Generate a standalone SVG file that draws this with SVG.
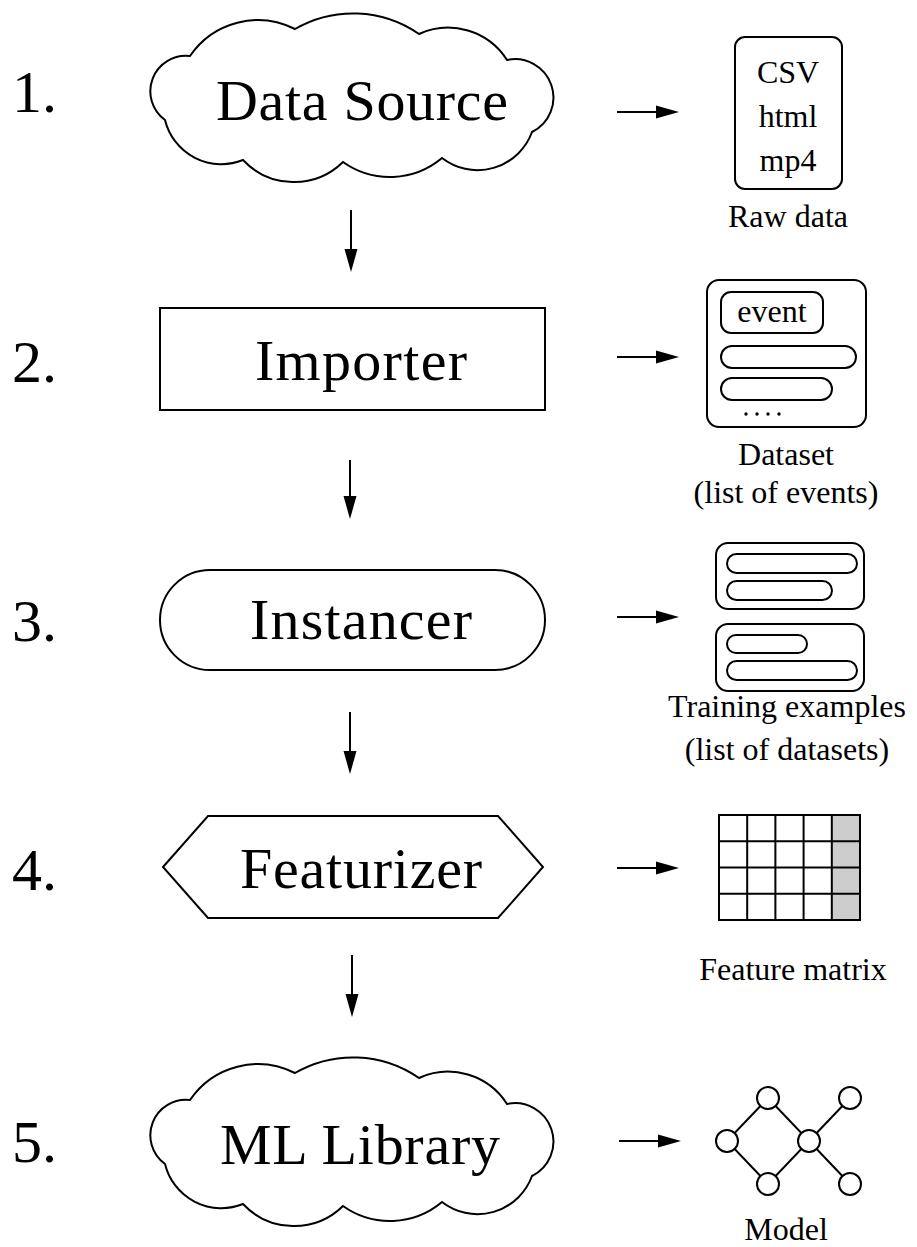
<svg xmlns="http://www.w3.org/2000/svg" width="917" height="1247" viewBox="0 0 917 1247">
<style>
.bg{fill:#ffffff}
.sh{fill:#ffffff;stroke:#000;stroke-width:2}
.ic{fill:none;stroke:#000;stroke-width:2}
.big{font-family:"Liberation Serif","Times New Roman",serif;font-size:58px;fill:#000}
.num{font-family:"Liberation Serif","Times New Roman",serif;font-size:60px;fill:#000}
.sm{font-family:"Liberation Serif","Times New Roman",serif;font-size:32px;fill:#000}
.ar{stroke:#000;stroke-width:2;fill:none}
</style>
<defs>
<marker id="ah" markerUnits="userSpaceOnUse" markerWidth="24" markerHeight="14" viewBox="0 -7 24 14" refX="1" refY="0" orient="auto">
<path d="M0,-6.5 L23,0 L0,6.5 Z" fill="#000"/>
</marker>
<path id="cloud" d="M190,56 A82,82 0 0 1 295,29 A116,116 0 0 1 419,34 A70,70 0 0 1 507,60 A38.4,38.4 0 0 1 532,132 A58,58 0 0 1 442,158 A81,81 0 0 1 343,162 A70,70 0 0 1 243,160 A58,58 0 0 1 165,120 A35.5,35.5 0 0 1 190,56 Z"/>
</defs>
<rect class="bg" x="0" y="0" width="917" height="1247"/>

<g id="step-numbers">
<text class="num" x="12" y="112">1.</text>
<text class="num" x="12" y="382">2.</text>
<text class="num" x="12" y="641">3.</text>
<text class="num" x="12" y="890">4.</text>
<text class="num" x="12" y="1162">5.</text>
</g>

<g id="data-source">
<use href="#cloud" class="sh"/>
<text class="big" x="362" y="120" text-anchor="middle" textLength="292">Data Source</text>
</g>

<g id="importer">
<rect class="sh" x="160" y="308" width="385" height="102"/>
<text class="big" x="361" y="380" text-anchor="middle" textLength="212">Importer</text>
</g>

<g id="instancer">
<rect class="sh" x="160" y="570" width="385" height="100" rx="50" ry="50"/>
<text class="big" x="361" y="639" text-anchor="middle" textLength="222">Instancer</text>
</g>

<g id="featurizer">
<polygon class="sh" points="163,867 208,816 498,816 543,867 498,918 208,918"/>
<text class="big" x="361" y="888" text-anchor="middle" textLength="242">Featurizer</text>
</g>

<g id="ml-library">
<use href="#cloud" class="sh" transform="translate(0,1044)"/>
<text class="big" x="360" y="1164" text-anchor="middle" textLength="280">ML Library</text>
</g>

<g id="connectors">
<line class="ar" x1="351" y1="210" x2="351" y2="250" marker-end="url(#ah)"/>
<line class="ar" x1="350" y1="460" x2="350" y2="497" marker-end="url(#ah)"/>
<line class="ar" x1="350" y1="712" x2="350" y2="752" marker-end="url(#ah)"/>
<line class="ar" x1="352" y1="955" x2="352" y2="995" marker-end="url(#ah)"/>
<line class="ar" x1="617" y1="112" x2="657" y2="112" marker-end="url(#ah)"/>
<line class="ar" x1="617" y1="357" x2="657" y2="357" marker-end="url(#ah)"/>
<line class="ar" x1="617" y1="617" x2="657" y2="617" marker-end="url(#ah)"/>
<line class="ar" x1="617" y1="868" x2="657" y2="868" marker-end="url(#ah)"/>
<line class="ar" x1="619" y1="1141" x2="659" y2="1141" marker-end="url(#ah)"/>
</g>

<g id="raw-data">
<rect class="ic" x="735" y="37" width="107" height="152" rx="10" ry="10"/>
<text class="sm" x="788" y="83" text-anchor="middle" font-size="34">CSV</text>
<text class="sm" x="788" y="127" text-anchor="middle" font-size="34">html</text>
<text class="sm" x="788" y="171" text-anchor="middle" font-size="34">mp4</text>
<text class="sm" x="788" y="227" text-anchor="middle">Raw data</text>
</g>

<g id="dataset">
<rect class="ic" x="707" y="280" width="159" height="147" rx="12" ry="12"/>
<rect class="ic" x="721" y="292" width="102" height="41" rx="10" ry="10"/>
<text class="sm" x="772" y="322" text-anchor="middle" font-size="33">event</text>
<rect class="ic" x="721" y="346" width="135" height="22" rx="11" ry="11"/>
<rect class="ic" x="721" y="378" width="111" height="22" rx="11" ry="11"/>
<circle cx="746" cy="414" r="1.7" fill="#000"/>
<circle cx="757" cy="414" r="1.7" fill="#000"/>
<circle cx="768" cy="414" r="1.7" fill="#000"/>
<circle cx="779" cy="414" r="1.7" fill="#000"/>
<text class="sm" x="786" y="465" text-anchor="middle">Dataset</text>
<text class="sm" x="786" y="503" text-anchor="middle">(list of events)</text>
</g>

<g id="training-examples">
<rect class="ic" x="716" y="543" width="148" height="66" rx="12" ry="12"/>
<rect class="ic" x="727" y="554" width="130" height="19" rx="9.5" ry="9.5"/>
<rect class="ic" x="727" y="581" width="105" height="19" rx="9.5" ry="9.5"/>
<rect class="ic" x="716" y="624" width="148" height="67" rx="12" ry="12"/>
<rect class="ic" x="727" y="635" width="80" height="18" rx="9" ry="9"/>
<rect class="ic" x="727" y="661" width="130" height="19" rx="9.5" ry="9.5"/>
<text class="sm" x="787" y="717" text-anchor="middle">Training examples</text>
<text class="sm" x="787" y="760" text-anchor="middle">(list of datasets)</text>
</g>

<g id="feature-matrix">
<rect x="831.8" y="815" width="28.2" height="105" fill="#cccccc"/>
<rect class="ic" x="719" y="815" width="141" height="105"/>
<path class="ic" d="M747.2,815 V920 M775.4,815 V920 M803.6,815 V920 M831.8,815 V920 M719,841.25 H860 M719,867.5 H860 M719,893.75 H860"/>
<text class="sm" x="793" y="980" text-anchor="middle">Feature matrix</text>
</g>

<g id="model">
<path class="ic" d="M727,1141 L768,1098 L809,1141 L768,1184 Z M809,1141 L850,1098 M809,1141 L850,1184"/>
<circle class="sh" cx="768" cy="1098" r="11"/>
<circle class="sh" cx="727" cy="1141" r="11"/>
<circle class="sh" cx="768" cy="1184" r="11"/>
<circle class="sh" cx="809" cy="1141" r="11"/>
<circle class="sh" cx="850" cy="1098" r="11"/>
<circle class="sh" cx="850" cy="1184" r="11"/>
<text class="sm" x="786" y="1240" text-anchor="middle">Model</text>
</g>
</svg>
